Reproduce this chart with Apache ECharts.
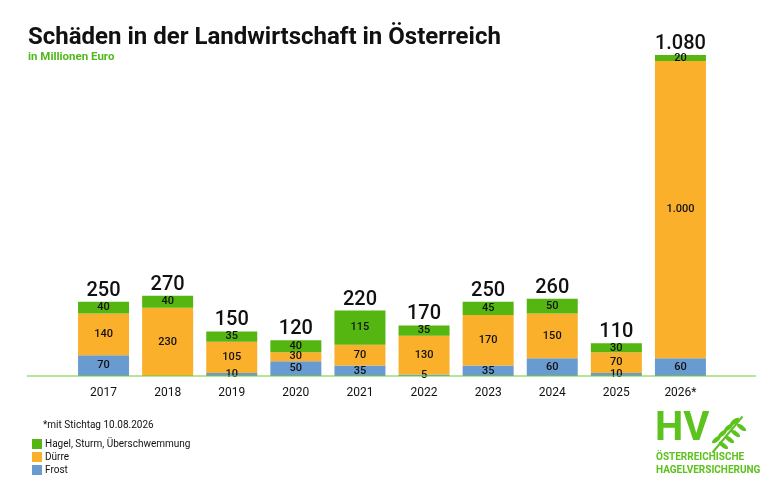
<!DOCTYPE html>
<html><head><meta charset="utf-8">
<script src="https://cdn.jsdelivr.net/npm/echarts@6/dist/echarts.min.js"></script>
<style>html,body{margin:0;padding:0;background:#fff}#c{width:779px;height:494px}</style>
</head><body><div id="c"></div>
<script>
const categories = ['2017','2018','2019','2020','2021','2022','2023','2024','2025','2026*'];
const frost = [70, 0, 10, 50, 35, 5, 35, 60, 10, 60];
const duerre = [140, 230, 105, 30, 70, 130, 170, 150, 70, 1000];
const hagel = [40, 40, 35, 40, 115, 35, 45, 50, 30, 20];
const seriesNames = ['Frost', 'Dürre', 'Hagel, Sturm, Überschwemmung'];
const legendOrder = ['Hagel, Sturm, Überschwemmung', 'Dürre', 'Frost'];

const COL = {green:'#55b612', orange:'#fbb02c', blue:'#6a9bd0', text:'#111'};
const LOGO = '#5cc21e';
const FONT = 'Roboto, "Open Sans", sans-serif';

function fmt(v){ return String(v).replace(/\B(?=(\d{3})+(?!\d))/g, '.'); }
const totals = categories.map((c,i)=>frost[i]+duerre[i]+hagel[i]);

const segLabel = {show:true, position:'inside', color:'#111', fontSize:11, fontFamily:FONT, fontWeight:500,
  formatter: p => p.value ? fmt(p.value) : ''};

// wheat ear grains for the logo
const grains = [];
for (let k = 0; k < 4; k++) {
  const cx = 8 + k * 6, cy = 30 - k * 6;
  grains.push({type:'ellipse', shape:{cx:cx - 4, cy:cy - 3, rx:2.2, ry:5.5}, rotation:-0.9, originX:cx - 4, originY:cy - 3, style:{fill:LOGO}});
  grains.push({type:'ellipse', shape:{cx:cx + 3, cy:cy + 3, rx:2.2, ry:5.5}, rotation:-2.2, originX:cx + 3, originY:cy + 3, style:{fill:LOGO}});
}
grains.push({type:'line', shape:{x1:0, y1:40, x2:30, y2:4}, style:{stroke:LOGO, lineWidth:2}});

const chart = echarts.init(document.getElementById('c'), null, {renderer:'canvas'});
chart.setOption({
  animation:false,
  backgroundColor:'#fff',
  title:{text:'Schäden in der Landwirtschaft in Österreich', subtext:'in Millionen Euro',
    left:23, top:21, itemGap:1,
    textStyle:{fontFamily:FONT, fontSize:24, fontWeight:'bold', color:'#111'},
    subtextStyle:{fontFamily:FONT, fontSize:11.5, fontWeight:'bold', color:'#4fb81a'}},
  legend:{data:legendOrder, orient:'vertical', left:27, top:434, itemWidth:10, itemHeight:10, itemGap:3,
    icon:'rect', textStyle:{fontFamily:FONT, fontSize:10, color:'#111', padding:[0,0,0,-2]}},
  grid:{left:71.5, right:66.5, top:49, bottom:118},
  xAxis:{type:'category', data:categories,
    axisLine:{show:false}, axisTick:{show:false},
    axisLabel:{color:'#111', fontFamily:FONT, fontSize:12, margin:11}},
  yAxis:{type:'value', min:0, max:1100, show:false, splitLine:{show:false}},
  graphic:[
    {type:'line', shape:{x1:27, y1:376, x2:756, y2:376}, style:{stroke:'#6ccc2e', lineWidth:1.2}, z:10},
    {type:'text', left:43, top:420, style:{text:'*mit Stichtag 10.08.2026', fontFamily:FONT, fontSize:10, fill:'#111'}},
    {type:'text', left:655, top:410, style:{text:'HV', fontFamily:FONT, fontSize:40, fontWeight:'bold', fill:LOGO}},
    {type:'group', left:710, top:414, children:grains},
    {type:'text', left:656, top:452, style:{text:'ÖSTERREICHISCHE', fontFamily:FONT, fontSize:10, fontWeight:'bold', fill:LOGO}},
    {type:'text', left:656, top:465, style:{text:'HAGELVERSICHERUNG', fontFamily:FONT, fontSize:10, fontWeight:'bold', fill:LOGO}}
  ],
  series:[
    {name:seriesNames[0], type:'bar', stack:'s', data:frost, barWidth:51, itemStyle:{color:COL.blue}, label:segLabel},
    {name:seriesNames[1], type:'bar', stack:'s', data:duerre, itemStyle:{color:COL.orange}, label:segLabel},
    {name:seriesNames[2], type:'bar', stack:'s', data:hagel, itemStyle:{color:COL.green}, label:segLabel},
    {name:'Summe', type:'bar', stack:'s', data:totals.map(()=>0), itemStyle:{color:'transparent'},
      label:{show:true, position:'top', distance:1, color:'#111', fontFamily:FONT, fontSize:20, fontWeight:500,
        formatter: p => fmt(totals[p.dataIndex])}}
  ]
});
</script></body></html>
